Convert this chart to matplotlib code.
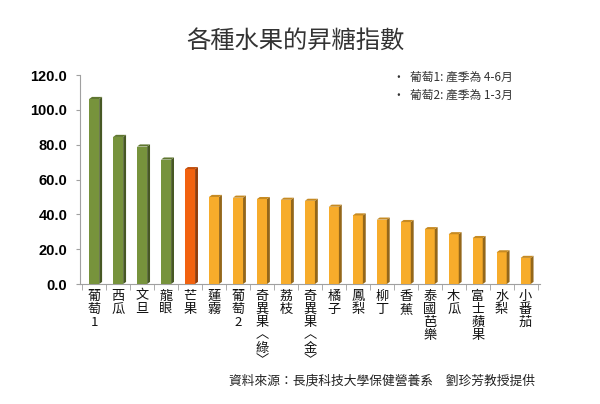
import matplotlib.pyplot as plt
import numpy as np
from matplotlib.colors import to_rgb

plt.rcParams['font.family'] = ['Noto Sans CJK TC', 'DejaVu Sans']

fruits = ["葡萄1", "西瓜", "文旦", "龍眼", "芒果", "蓮霧", "葡萄2", "奇異果︿綠﹀", "荔枝",
          "奇異果︿金﹀", "橘子", "鳳梨", "柳丁", "香蕉", "泰國芭樂", "木瓜", "富士蘋果", "水梨", "小番茄"]
gi = [106.3, 84.5, 79.0, 71.5, 66.0, 50.0, 49.6, 48.8, 48.4, 47.8, 44.4, 39.4, 37.0, 35.6, 31.5, 28.6, 26.4, 18.2, 15.0]
groups = ["g", "g", "g", "g", "r"] + ["o"] * 14
colors = {"g": "#77933C", "r": "#F2620F", "o": "#F7AC2B"}
notes = ["•  葡萄1: 產季為 4-6月", "•  葡萄2: 產季為 1-3月"]
source = "資料來源：長庚科技大學保健營養系　劉珍芳教授提供"
title = "各種水果的昇糖指數"

fig = plt.figure(figsize=(6, 4.04), dpi=100)
ax = fig.add_axes([0.133, 0.297, 0.767, 0.517])

x = np.arange(len(gi))
w = 0.42
dx, dy = 0.12, 1.2
for xi, v, g in zip(x, gi, groups):
    c = np.array(to_rgb(colors[g]))
    ax.bar(xi, v, width=w, color=c, edgecolor='none', zorder=3)
    side_x = [xi + w / 2, xi + w / 2 + dx, xi + w / 2 + dx, xi + w / 2]
    side_y = [0, dy, v + dy, v]
    ax.fill(side_x, side_y, color=c * 0.6, zorder=3, lw=0)
    top_x = [xi - w / 2, xi - w / 2 + dx, xi + w / 2 + dx, xi + w / 2]
    top_y = [v, v + dy, v + dy, v]
    ax.fill(top_x, top_y, color=c * 0.8, zorder=3, lw=0)

ax.set_xlim(-0.6, len(gi) - 0.4)
ax.set_ylim(0, 120)
ax.set_yticks(np.arange(0, 121, 20))
ax.set_yticklabels([f"{t:.1f}" for t in np.arange(0, 121, 20)],
                   fontfamily='Liberation Sans', fontweight='bold', fontsize=10.5)
ax.tick_params(axis='y', length=3, color='#A0A0A0', pad=6)
ax.set_xticks(x)
ax.set_xticklabels(["\n".join(f) for f in fruits], fontsize=9.5, linespacing=1.0,
                   va='top', color='#111111')
ax.tick_params(axis='x', length=0, pad=4)
ax.set_xticks(np.arange(-0.5, len(gi)), minor=True)
ax.tick_params(axis='x', which='minor', length=4, color='#A0A0A0')

for s in ['top', 'right']:
    ax.spines[s].set_visible(False)
ax.spines['left'].set_color('#A0A0A0')
ax.spines['bottom'].set_color('#A0A0A0')

fig.text(0.492, 0.9, title, ha='center', va='center', fontsize=17.5, color='#333333')
for i, n in enumerate(notes):
    fig.text(0.655, 0.81 - i * 0.045, n, ha='left', va='center', fontsize=8.5, color='#333333')
fig.text(0.892, 0.057, source, ha='right', va='center', fontsize=9.2, color='#222222')

fig.savefig("out.png", dpi=100, facecolor='white')
